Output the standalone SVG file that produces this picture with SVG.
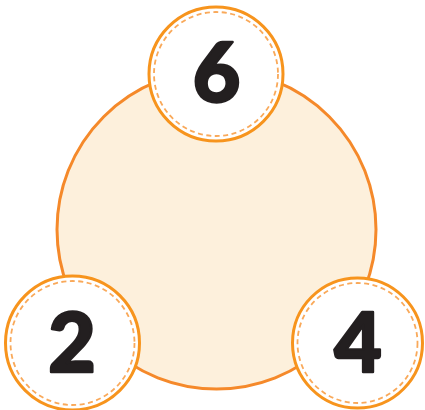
<svg xmlns="http://www.w3.org/2000/svg" width="425" height="410" viewBox="0 0 425 410">
<style>
.big{fill:#fdf0dc;stroke:#f5892a;stroke-width:3}
.ring{fill:#ffffff;stroke:#f7941d;stroke-width:3}
.dash{fill:none;stroke:#f9a95a;stroke-width:1.8;stroke-dasharray:5 3.5}
.num{font-family:Lato,"DejaVu Sans",sans-serif;font-weight:900;font-size:82px;fill:#231f20;stroke:#231f20;stroke-width:2.5;stroke-linejoin:round;text-anchor:middle}
</style>
<rect width="425" height="410" fill="#ffffff"/>
<g id="main"><circle class="big" cx="216.5" cy="229.5" r="159.5"/></g>
<g id="connectors"></g>
<g id="n6"><circle class="ring" cx="216" cy="74" r="67"/><circle class="dash" cx="216" cy="74" r="62"/><text class="num" x="216.5" y="102">6</text></g>
<g id="n2"><circle class="ring" cx="72.5" cy="343" r="67"/><circle class="dash" cx="72.5" cy="343" r="62"/><text class="num" x="72" y="372">2</text></g>
<g id="n4"><circle class="ring" cx="357.5" cy="343" r="65"/><circle class="dash" cx="357.5" cy="343" r="60"/><text class="num" x="358" y="372">4</text></g>
</svg>
